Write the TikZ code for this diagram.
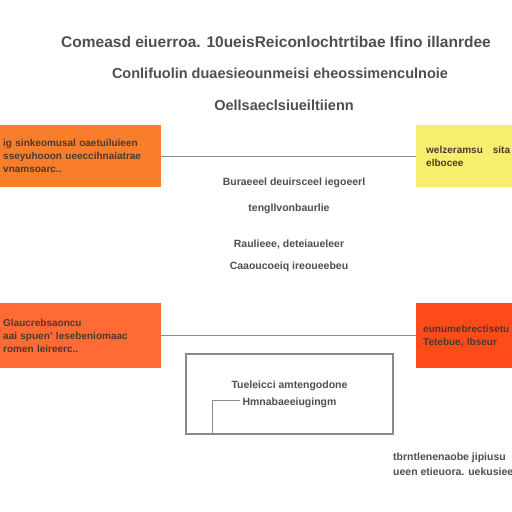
\documentclass[tikz,border=0pt]{standalone}
\usepackage{fontspec}
\setmainfont{Liberation Sans}
\usetikzlibrary{positioning}
\definecolor{paneorange}{HTML}{F97E2C}
\definecolor{paneyellow}{HTML}{F6EE6C}
\definecolor{panecoral}{HTML}{FF6A35}
\definecolor{panered}{HTML}{FF4A1A}
\definecolor{inkgray}{HTML}{4F4F4F}
\definecolor{inkbrown}{HTML}{4A3A30}
\definecolor{rulegray}{HTML}{8A8A8A}

\begin{document}
\begin{tikzpicture}[x=1pt,y=-1pt,
  headline/.style={text=inkgray, font=\bfseries\fontsize{15.5}{17}\selectfont, inner sep=0pt},
  panel/.style={minimum height=62pt, inner xsep=3pt, inner ysep=0pt, align=left,
    text=inkbrown, font=\bfseries\fontsize{10}{13}\selectfont, anchor=north west},
  caption/.style={text=inkgray, font=\bfseries\fontsize{10.5}{11}\selectfont, inner sep=0pt},
  link/.style={draw=rulegray, line width=1.2pt}]
  \useasboundingbox (0,0) rectangle (512,512);
  \fill[white] (0,0) rectangle (512,512);

  % heading
  \node[headline] (title) at (276,42) {Comeasd eiuerroa. 10ueisReiconlochtrtibae Ifino illanrdee};
  \node[headline, font=\bfseries\fontsize{14.5}{16}\selectfont] (subtitle) at (280,73) {Conlifuolin duaesieounmeisi eheossimenculnoie};
  \node[headline, font=\bfseries\fontsize{14.5}{16}\selectfont] (tagline) at (284,105) {Oellsaeclsiueiltiienn};

  % upper row
  \node[panel, fill=paneorange, text width=155pt] (upleft) at (0,125)
    {ig sinkeomusal oaetuiluieen\\sseyuhooon ueeccihnaiatrae\\vnamsoarc..};
  \node[panel, fill=paneyellow, text width=104pt, inner xsep=10pt] (upright) at (416,125)
    {welzeramsu\quad sita\\elbocee};
  \draw[link] (upleft.east) -- (upright.west);

  % middle notes
  \node[caption] (noteA) at (294,183) {Buraeeel deuirsceel iegoeerl};
  \node[caption] (noteB) at (289,209) {tengllvonbaurlie};
  \node[caption] (noteC) at (289,245) {Raulieee, deteiaueleer};
  \node[caption] (noteD) at (289,267) {Caaoucoeiq ireoueebeu};

  % lower row
  \node[panel, fill=panecoral, text width=155pt, minimum height=65pt] (lowleft) at (0,303)
    {Glaucrebsaoncu\\aai spuen' lesebeniomaac\\romen leireerc..};
  \node[panel, fill=panered, text width=104pt, minimum height=65pt, inner xsep=7pt] (lowright) at (416,303)
    {eunumebrectisetu\\Tetebue, lbseur};
  \draw[link] (lowleft.east) -- (lowright.west);

  % framed box
  \node[draw=rulegray, line width=1.3pt, minimum width=207pt, minimum height=80pt,
    inner sep=0pt, align=center, text=inkgray, font=\bfseries\fontsize{10.5}{17}\selectfont]
    (frame) at (289.5,394) {Tueleicci amtengodone\\Hmnabaeeiugingm};
  \coordinate (tickend) at (240,400);
  \coordinate (tickcorner) at (212,400);
  \draw[rulegray, line width=0.6pt] (tickend) -- (tickcorner) -- (tickcorner |- frame.south);

  % corner remark
  \node[caption, anchor=west, align=left, font=\bfseries\fontsize{10.5}{15}\selectfont] (remark) at (393,464)
    {tbrntlenenaobe jipiusu\\ueen etieuora. uekusiee};
\end{tikzpicture}
\end{document}
